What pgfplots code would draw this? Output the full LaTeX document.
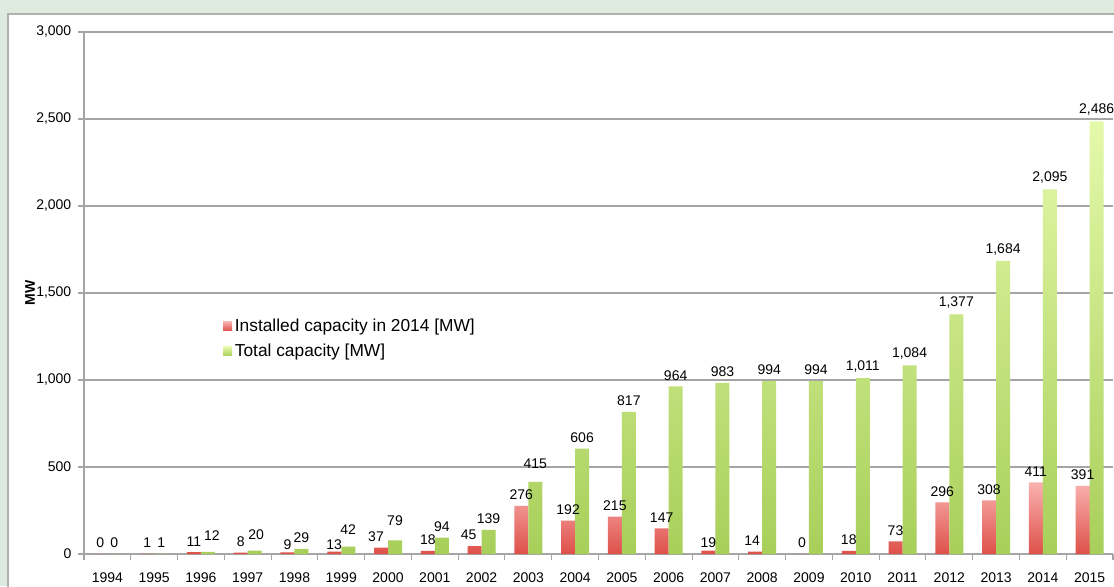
\documentclass[border=0pt]{standalone}
\usepackage{pgfplots}
\pgfplotsset{compat=1.18}
\usepackage{fontspec}
\setmainfont{Liberation Sans}
\definecolor{bgc}{RGB}{224,235,224}
\definecolor{framec}{RGB}{176,176,176}
\definecolor{gridc}{RGB}{165,165,165}
\definecolor{redtop}{RGB}{250,178,175}
\definecolor{redbot}{RGB}{222,80,74}
\definecolor{grtop}{RGB}{228,249,170}
\definecolor{grbot}{RGB}{168,207,90}
\pgfplotstableread{
x inst total rdx rdy gdx gdy
0 0 0 0 1 0 1
1 1 1 0 1 0 1
2 11 12 0 1 3 4.75
3 8 20 0 1 1 4.75
4 9 29 0 -1.25 0 1
5 13 42 0 -2 0 5.5
6 37 79 -3.75 1 0 7.75
7 18 94 0 1 0 1
8 45 139 -4.5 1 0 1
9 276 415 0 1 0 6.25
10 192 606 0 1 0 1
11 215 817 0 1 0 1
12 147 964 0 1 0 1
13 19 983 0 -1.25 0 1
14 14 994 -2.25 1 0 1
15 0 994 0 1 0 1
16 18 1011 0 1 0 1
17 73 1084 0 1 0 1
18 296 1377 0 1 0 1
19 308 1684 0 1 0 1
20 411 2095 0 1 0 1
21 391 2486 0 1 0 1
}\datatable
\begin{document}
\begin{tikzpicture}
\path[use as bounding box] (-63pt,-24pt) rectangle (772.5pt,415.5pt);
\clip (-63pt,-24pt) rectangle (772.5pt,415.5pt);
\fill[bgc] (-63pt,-24pt) rectangle (772.5pt,415.5pt);
\filldraw[fill=white, draw=framec, line width=0.8pt] (-57pt,-40pt) rectangle (800pt,405pt);
\begin{axis}[
  at={(0pt,0pt)}, anchor=south west,
  scale only axis, width=771.75pt, height=391.5pt,
  xmin=-0.5, xmax=21.5, ymin=0, ymax=3000,
  ybar=0pt, bar width=10.5pt,
  axis x line*=bottom, axis y line*=left,
  axis line style={draw=gridc, line width=0.8pt},
  ytick={0,500,...,3000},
  ymajorgrids, grid style={draw=gridc, line width=0.8pt},
  xtick={0,...,21},
  xticklabels={1994,1995,1996,1997,1998,1999,2000,2001,2002,2003,2004,2005,2006,2007,2008,2009,2010,2011,2012,2013,2014,2015},
  minor xtick={-0.5,0.5,...,21.5},
  major x tick style={draw=none},
  minor x tick style={draw=gridc, line width=0.8pt},
  y tick style={draw=gridc, line width=0.8pt},
  tick align=outside,
  major tick length=4.5pt, minor tick length=4.5pt,
  ticklabel style={font=\fontsize{10.5pt}{12pt}\selectfont},
  xticklabel style={yshift=-6pt},
  yticklabel style={xshift=-1.5pt},
  /pgf/number format/assume math mode=true,
  /pgf/number format/1000 sep={,},
  scaled y ticks=false,
  ylabel={\textbf{MW}},
  ylabel style={at={(axis description cs:-0.0525,0.5)}, anchor=center, font=\fontsize{10.5pt}{12pt}\selectfont},
  nodes near coords,
  every node near coord/.append style={font=\fontsize{10.5pt}{12pt}\selectfont, black},
  clip=false,
  legend style={at={(axis description cs:0.135,0.456)}, anchor=north west, draw=none, fill=none,
    font=\fontsize{13pt}{15pt}\selectfont, row sep=4pt, inner sep=0pt},
  legend cell align=left,
  legend image code/.code={\path[#1, draw=none] (0pt,-3.4pt) rectangle (6.8pt,3.4pt);},
]
\addplot[draw=none, top color=redtop, bottom color=redbot,
  visualization depends on={\thisrow{rdx} \as \mydx},
  visualization depends on={\thisrow{rdy} \as \mydy},
  nodes near coords style={xshift=\mydx pt, yshift=\mydy pt}] table[x=x, y=inst] {\datatable};
\addplot[draw=none, top color=grtop, bottom color=grbot,
  visualization depends on={\thisrow{gdx} \as \mydx},
  visualization depends on={\thisrow{gdy} \as \mydy},
  nodes near coords style={xshift=\mydx pt, yshift=\mydy pt}] table[x=x, y=total] {\datatable};
\legend{Installed capacity in 2014 [MW], Total capacity [MW]}
\end{axis}
\end{tikzpicture}
\end{document}
